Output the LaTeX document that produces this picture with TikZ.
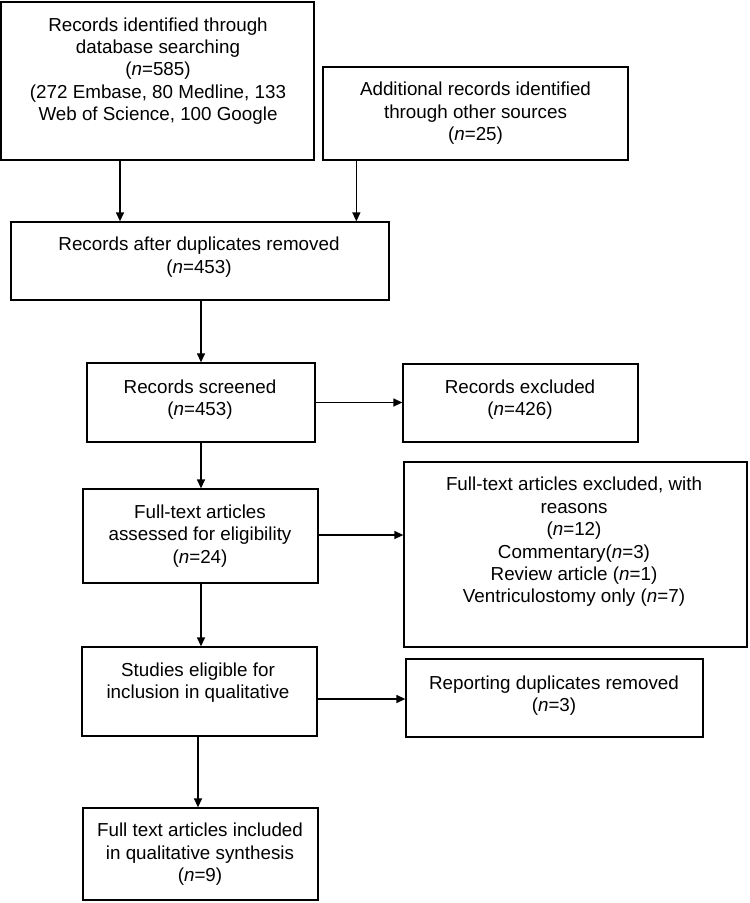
\documentclass[tikz,border=0pt]{standalone}
\usepackage{fontspec}
\setmainfont{Liberation Sans}
\usetikzlibrary{arrows.meta,calc}
\begin{document}
\begin{tikzpicture}[x=1pt,y=-1pt,
  box/.style={draw=black,line width=1.3pt,rectangle,inner sep=0pt},
  txt/.style={align=center,inner sep=0pt,font=\fontsize{18.8}{22.4}\selectfont},
  arr/.style={line width=1.3pt,-{Triangle[length=9pt,width=8pt]}}]
\useasboundingbox (0,0) rectangle (750,903);
% boxes
\node[box,minimum width=313pt,minimum height=158pt] (A) at (157.5,81) {};
\node[box,minimum width=305pt,minimum height=93pt] (B) at (475.5,113.5) {};
\node[box,minimum width=378pt,minimum height=78pt] (C) at (200,261) {};
\node[box,minimum width=228pt,minimum height=79pt] (D) at (201,402.5) {};
\node[box,minimum width=235pt,minimum height=78pt] (E) at (520.5,403) {};
\node[box,minimum width=235pt,minimum height=94pt] (F) at (200.5,536) {};
\node[box,minimum width=343pt,minimum height=185pt] (G) at (575.5,554.5) {};
\node[box,minimum width=235pt,minimum height=89pt] (H) at (199.5,691.5) {};
\node[box,minimum width=297pt,minimum height=78pt] (I) at (554.5,698) {};
\node[box,minimum width=235pt,minimum height=92pt] (J) at (200.5,854) {};
% texts
\node[txt] (At) at (158,71) {Records identified through\\database searching\\(\textit{n}=585)\\(272 Embase, 80 Medline, 133\\Web of Science, 100 Google};
\node[txt] (Bt) at (475.5,113.5) {Additional records identified\\through other sources\\(\textit{n}=25)};
\node[txt] (Ct) at (199,257) {Records after duplicates removed\\(\textit{n}=453)};
\node[txt] (Dt) at (200,399.5) {Records screened\\(\textit{n}=453)};
\node[txt] (Et) at (520,399.5) {Records excluded\\(\textit{n}=426)};
\node[txt] (Ft) at (200,536) {Full-text articles\\assessed for eligibility\\(\textit{n}=24)};
\node[txt] (Gt) at (574,542) {Full-text articles excluded, with\\reasons\\(\textit{n}=12)\\Commentary(\textit{n}=3)\\Review article (\textit{n}=1)\\Ventriculostomy only (\textit{n}=7)};
\node[txt] (Ht) at (198,682.5) {Studies eligible for\\inclusion in qualitative};
\node[txt] (It) at (554,695.5) {Reporting duplicates removed\\(\textit{n}=3)};
\node[txt] (Jt) at (200,854.5) {Full text articles included\\in qualitative synthesis\\(\textit{n}=9)};
% connectors
\draw[arr] ([xshift=-37.5pt]A.south) -- ([xshift=-37.5pt]A.south |- C.north);
\draw[arr] ([xshift=34pt]B.south west) -- ([xshift=34pt]B.south west |- C.north);
\draw[arr] (C.south -| D.north) -- (D.north);
\draw[arr] (D.east) -- (D.east -| E.west);
\draw[arr] (D.south) -- (D.south |- F.north);
\draw[arr] ([yshift=1pt]F.east) -- ([yshift=1pt]F.east -| G.west);
\draw[arr] ([xshift=0.5pt]F.south) -- ([xshift=0.5pt]F.south |- H.north);
\draw[arr] ([yshift=-7.5pt]H.east) -- ([yshift=-7.5pt]H.east -| I.west);
\draw[arr] ([xshift=-1.5pt]H.south) -- ([xshift=-1.5pt]H.south |- J.north);
\end{tikzpicture}
\end{document}
